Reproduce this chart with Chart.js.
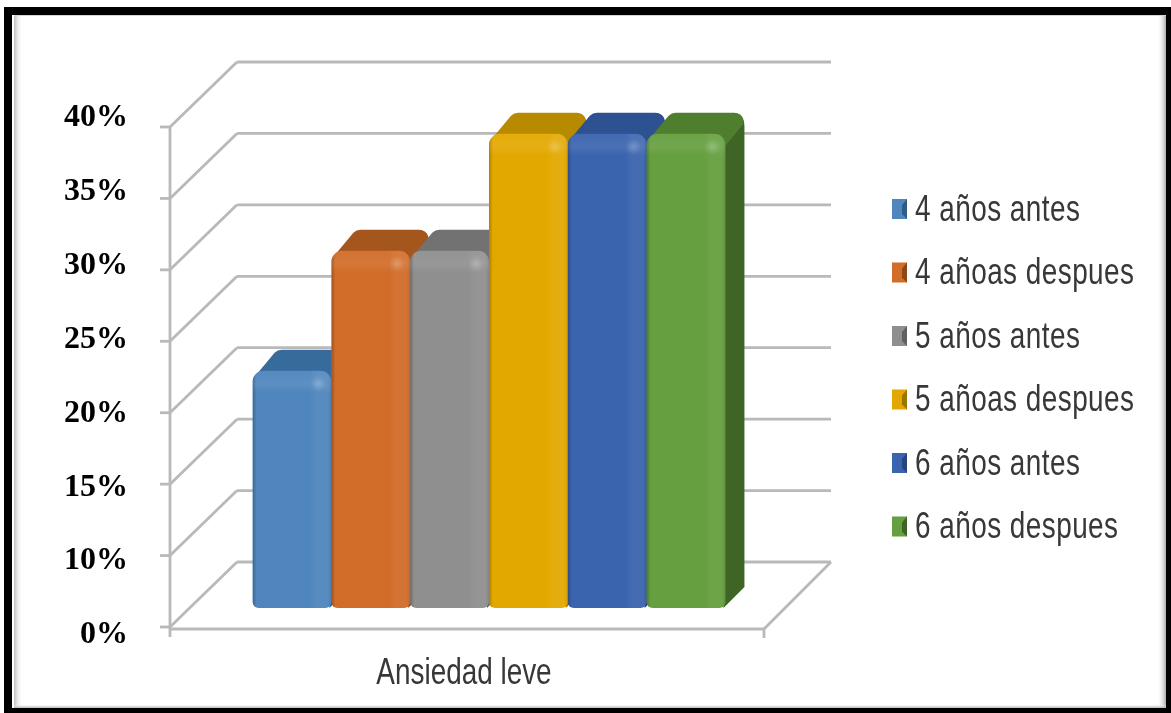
<!DOCTYPE html>
<html lang="es">
<head>
<meta charset="utf-8">
<title>Ansiedad leve</title>
<style>
  html, body { margin: 0; padding: 0; background: #fff; }
  canvas { display: block; }
</style>
<script src="https://cdn.jsdelivr.net/npm/chart.js@4/dist/chart.umd.min.js"></script>
</head>
<body>
<canvas id="chart" width="1171" height="713"></canvas>
<script>
// Data
const categories = ['Ansiedad leve'];
const seriesNames = ['4 años antes', '4 añoas despues', '5 años antes', '5 añoas despues', '6 años antes', '6 años despues'];
const seriesValues = [21.6, 30, 30, 38.2, 38.2, 38.2];
// The printed axis jumps from 0% straight to 10% with equal spacing.
const tickValues = [0, 10, 15, 20, 25, 30, 35, 40];

// Colours per series: front, top face, side face
const frontColors = ['#4f86bd', '#d16c29', '#8f8f8f', '#e3a800', '#3b64ae', '#659f3f'];
const topColors   = ['#376b9c', '#a4561c', '#727272', '#b88a00', '#2e5192', '#4f7f2e'];
const sideColors  = ['#2f5c86', '#8c4817', '#606060', '#9c7500', '#27457c', '#3f6526'];

// 3D box geometry, relative to the bars' front plane
const FLOOR_FRONT = { dx: -22, dy: 19 };
const FLOOR_BACK = { dx: 45, dy: -46 };
const BAR_DEPTH = { dx: 19, dy: 21 };
const TOP_RADIUS = 11;
const BOTTOM_RADIUS = 6;
const WALL_COLOR = '#b9b9b9';
const TEXT_COLOR = '#383838';
const SANS_FONT = '"Liberation Sans", sans-serif';
const TEXT_SQUEEZE = 0.775;

// Linear scale whose ticks are evenly spaced even though their values are not.
class SkipLinearScale extends Chart.LinearScale {
  buildTicks() {
    return tickValues.map(value => ({ value }));
  }
  rankOf(value) {
    if (value <= tickValues[1]) return value / tickValues[1];
    return 1 + (value - tickValues[1]) / (tickValues[2] - tickValues[1]);
  }
  getPixelForValue(value) {
    return this.getPixelForDecimal(this.rankOf(value) / (tickValues.length - 1));
  }
  getValueForPixel(pixel) {
    const rank = this.getDecimalForPixel(pixel) * (tickValues.length - 1);
    return rank <= 1 ? rank * tickValues[1] : tickValues[1] + (rank - 1) * (tickValues[2] - tickValues[1]);
  }
  // Tick captions run on a slightly wider pitch than the gridlines.
  _computeLabelItems(area) {
    const items = super._computeLabelItems(area);
    items.forEach((item, i) => { item.options.translation[1] = 635 - i * 73.86; });
    return items;
  }
}
SkipLinearScale.id = 'skipLinear';
SkipLinearScale.defaults = Chart.LinearScale.defaults;
Chart.register(SkipLinearScale);

function line(ctx, x1, y1, x2, y2) {
  ctx.beginPath();
  ctx.moveTo(x1, y1);
  ctx.lineTo(x2, y2);
  ctx.stroke();
}

// Horizontally condensed text, anchored at (x, y)
function squeezedText(ctx, text, x, y, align) {
  ctx.save();
  ctx.translate(x, y);
  ctx.scale(TEXT_SQUEEZE, 1);
  ctx.textAlign = align;
  ctx.textBaseline = 'middle';
  ctx.fillText(text, 0, 0);
  ctx.restore();
}

// Outer black frame with its soft inner shadow
const framePlugin = {
  id: 'frame',
  beforeDraw(chart) {
    const ctx = chart.ctx;
    ctx.save();
    ctx.fillStyle = '#fff';
    ctx.fillRect(0, 0, 1171, 713);
    let g = ctx.createLinearGradient(14, 0, 23, 0);
    g.addColorStop(0, '#bdbdbd');
    g.addColorStop(1, 'rgba(255,255,255,0)');
    ctx.fillStyle = g;
    ctx.fillRect(14, 15, 9, 693);
    g = ctx.createLinearGradient(1157, 0, 1166, 0);
    g.addColorStop(0, 'rgba(255,255,255,0)');
    g.addColorStop(1, '#a8a8a8');
    ctx.fillStyle = g;
    ctx.fillRect(1157, 15, 9, 693);
    g = ctx.createLinearGradient(0, 704, 0, 708);
    g.addColorStop(0, 'rgba(255,255,255,0)');
    g.addColorStop(1, '#b0b0b0');
    ctx.fillStyle = g;
    ctx.fillRect(14, 704, 1152, 4);
    ctx.fillStyle = '#d4d4d4';
    ctx.fillRect(14, 15, 1152, 1);
    ctx.fillStyle = '#000';
    ctx.fillRect(4, 7, 1167, 8);
    ctx.fillRect(4, 7, 8, 706);
    ctx.fillRect(1166, 7, 5, 706);
    ctx.fillRect(4, 708, 1167, 5);
    ctx.restore();
  }
};

// Back wall, side wall and floor, positioned from the value scale
const wallsPlugin = {
  id: 'walls',
  beforeDatasetsDraw(chart) {
    const { ctx, chartArea: a, scales: { y } } = chart;
    const fx = a.left + FLOOR_FRONT.dx, bx = a.left + FLOOR_BACK.dx;
    const frx = a.right + FLOOR_FRONT.dx, brx = a.right + FLOOR_BACK.dx;
    const zeroPx = y.getPixelForValue(0);
    ctx.save();
    ctx.strokeStyle = WALL_COLOR;
    ctx.lineWidth = 2.8;
    tickValues.forEach(v => {
      const p = y.getPixelForValue(v);
      const fy = p + FLOOR_FRONT.dy, by = p + FLOOR_BACK.dy;
      line(ctx, bx, by, brx, by);
      line(ctx, fx, fy, bx, by);
      line(ctx, fx - 10, fy, fx, fy);
    });
    const topPx = y.getPixelForValue(tickValues[tickValues.length - 1]);
    line(ctx, fx, topPx + FLOOR_FRONT.dy, fx, zeroPx + FLOOR_FRONT.dy + 10);
    line(ctx, fx, zeroPx + FLOOR_FRONT.dy + 2, frx, zeroPx + FLOOR_FRONT.dy + 2);
    line(ctx, frx, zeroPx + FLOOR_FRONT.dy + 2, brx, zeroPx + FLOOR_BACK.dy);
    line(ctx, frx, zeroPx + FLOOR_FRONT.dy + 2, frx, zeroPx + FLOOR_FRONT.dy + 11);
    ctx.restore();
  }
};

function drawBoxFaces(ctx, bar, i) {
  const left = bar.x - bar.width / 2, right = bar.x + bar.width / 2;
  const { dx, dy } = BAR_DEPTH;
  const r = 11;
  ctx.save();
  ctx.fillStyle = sideColors[i];
  ctx.beginPath();
  ctx.moveTo(right - 5, bar.y + 2);
  ctx.lineTo(right + dx - r, bar.y - dy);
  ctx.quadraticCurveTo(right + dx, bar.y - dy, right + dx, bar.y - dy + r + 3);
  ctx.lineTo(right + dx, bar.base - dy);
  ctx.lineTo(right - 2, bar.base);
  ctx.closePath();
  ctx.fill();
  ctx.fillStyle = topColors[i];
  ctx.beginPath();
  ctx.moveTo(left + 1, bar.y + 9);
  ctx.quadraticCurveTo(left + 3, bar.y + 4, left + 7, bar.y);
  ctx.lineTo(left + dx + 3, bar.y - dy + 3);
  ctx.quadraticCurveTo(left + dx + 6, bar.y - dy, left + dx + 10, bar.y - dy);
  ctx.lineTo(right + dx - r - 1, bar.y - dy);
  ctx.quadraticCurveTo(right + dx - 1, bar.y - dy, right + dx - 1, bar.y - dy + r);
  ctx.lineTo(right, bar.y + 12);
  ctx.lineTo(left + 4, bar.y + 12);
  ctx.closePath();
  ctx.fill();
  ctx.restore();
}

function drawBevel(ctx, bar) {
  const left = bar.x - bar.width / 2, right = bar.x + bar.width / 2;
  const top = bar.y, bottom = bar.base, w = right - left;
  ctx.save();
  ctx.beginPath();
  ctx.roundRect(left, top, w, bottom - top, [TOP_RADIUS, TOP_RADIUS, BOTTOM_RADIUS, BOTTOM_RADIUS]);
  ctx.clip();
  let g = ctx.createLinearGradient(left, 0, right, 0);
  g.addColorStop(0, 'rgba(0,0,0,0.24)');
  g.addColorStop(0.05, 'rgba(0,0,0,0)');
  g.addColorStop(0.72, 'rgba(255,255,255,0)');
  g.addColorStop(0.82, 'rgba(255,255,255,0.05)');
  g.addColorStop(0.95, 'rgba(255,255,255,0.05)');
  g.addColorStop(1, 'rgba(0,0,0,0.08)');
  ctx.fillStyle = g;
  ctx.fillRect(left, top, w, bottom - top);
  g = ctx.createLinearGradient(0, top, 0, top + 22);
  g.addColorStop(0, 'rgba(255,255,255,0.04)');
  g.addColorStop(0.6, 'rgba(255,255,255,0.08)');
  g.addColorStop(1, 'rgba(255,255,255,0)');
  ctx.fillStyle = g;
  ctx.fillRect(left, top, w, 22);
  const sx = right - 13, sy = top + 13;
  g = ctx.createRadialGradient(sx, sy, 0, sx, sy, 8);
  g.addColorStop(0, 'rgba(255,255,255,0.2)');
  g.addColorStop(1, 'rgba(255,255,255,0)');
  ctx.fillStyle = g;
  ctx.fillRect(sx - 8, sy - 8, 16, 16);
  ctx.restore();
}

// Bars are painted left to right so each box overlaps its left neighbour
const boxPlugin = {
  id: 'boxes',
  beforeDatasetDraw() {
    return false;
  },
  afterDatasetsDraw(chart) {
    const ctx = chart.ctx;
    seriesNames.forEach((name, i) => {
      const meta = chart.getDatasetMeta(i);
      const bar = meta.data[0];
      drawBoxFaces(ctx, bar, i);
      meta.controller.draw();
      drawBevel(ctx, bar);
    });
  }
};

// Condensed category caption and legend column with small box swatches
const textPlugin = {
  id: 'captions',
  afterDraw(chart) {
    const ctx = chart.ctx;
    const x = chart.scales.x;
    ctx.save();
    ctx.font = '36px ' + SANS_FONT;
    ctx.fillStyle = TEXT_COLOR;
    squeezedText(ctx, categories[0], x.getPixelForTick(0) - 25, 674, 'center');
    ctx.letterSpacing = '0.6px';
    seriesNames.forEach((name, i) => {
      const cy = 209 + i * 63.5;
      const sx = 892, sy = cy - 10;
      ctx.fillStyle = frontColors[i];
      ctx.fillRect(sx, sy, 15, 20);
      ctx.fillStyle = sideColors[i];
      ctx.beginPath();
      ctx.moveTo(sx + 15, sy);
      ctx.lineTo(sx + 15, sy + 20);
      ctx.lineTo(sx + 10, sy + 15);
      ctx.lineTo(sx + 10, sy + 6);
      ctx.closePath();
      ctx.fill();
      ctx.fillStyle = TEXT_COLOR;
      squeezedText(ctx, name, 915, cy + 2, 'left');
    });
    ctx.restore();
  }
};

new Chart(document.getElementById('chart'), {
  type: 'bar',
  data: {
    labels: categories,
    datasets: seriesNames.map((name, i) => ({
      label: name,
      data: [seriesValues[i]],
      backgroundColor: frontColors[i],
      borderRadius: { topLeft: TOP_RADIUS, topRight: TOP_RADIUS, bottomLeft: BOTTOM_RADIUS, bottomRight: BOTTOM_RADIUS },
      borderSkipped: false
    }))
  },
  options: {
    responsive: false,
    animation: false,
    devicePixelRatio: 1,
    layout: { padding: { top: 108, right: 385, left: 0, bottom: 0 } },
    plugins: { legend: { display: false }, tooltip: { enabled: false }, title: { display: false } },
    datasets: { bar: { barPercentage: 1, categoryPercentage: 0.796 } },
    scales: {
      x: {
        type: 'category',
        grid: { display: false },
        border: { display: false },
        afterFit(scale) { scale.height = 105; },
        ticks: { display: false }
      },
      y: {
        type: 'skipLinear',
        min: 0,
        max: 40,
        grid: { display: false, drawTicks: false },
        border: { display: false },
        afterFit(scale) { scale.width = 192; },
        ticks: {
          autoSkip: false,
          color: '#000',
          padding: 64,
          font: { family: '"Liberation Serif", serif', size: 32, weight: 'bold' },
          callback: v => v + '%'
        }
      }
    }
  },
  plugins: [framePlugin, wallsPlugin, boxPlugin, textPlugin]
});
</script>
</body>
</html>
